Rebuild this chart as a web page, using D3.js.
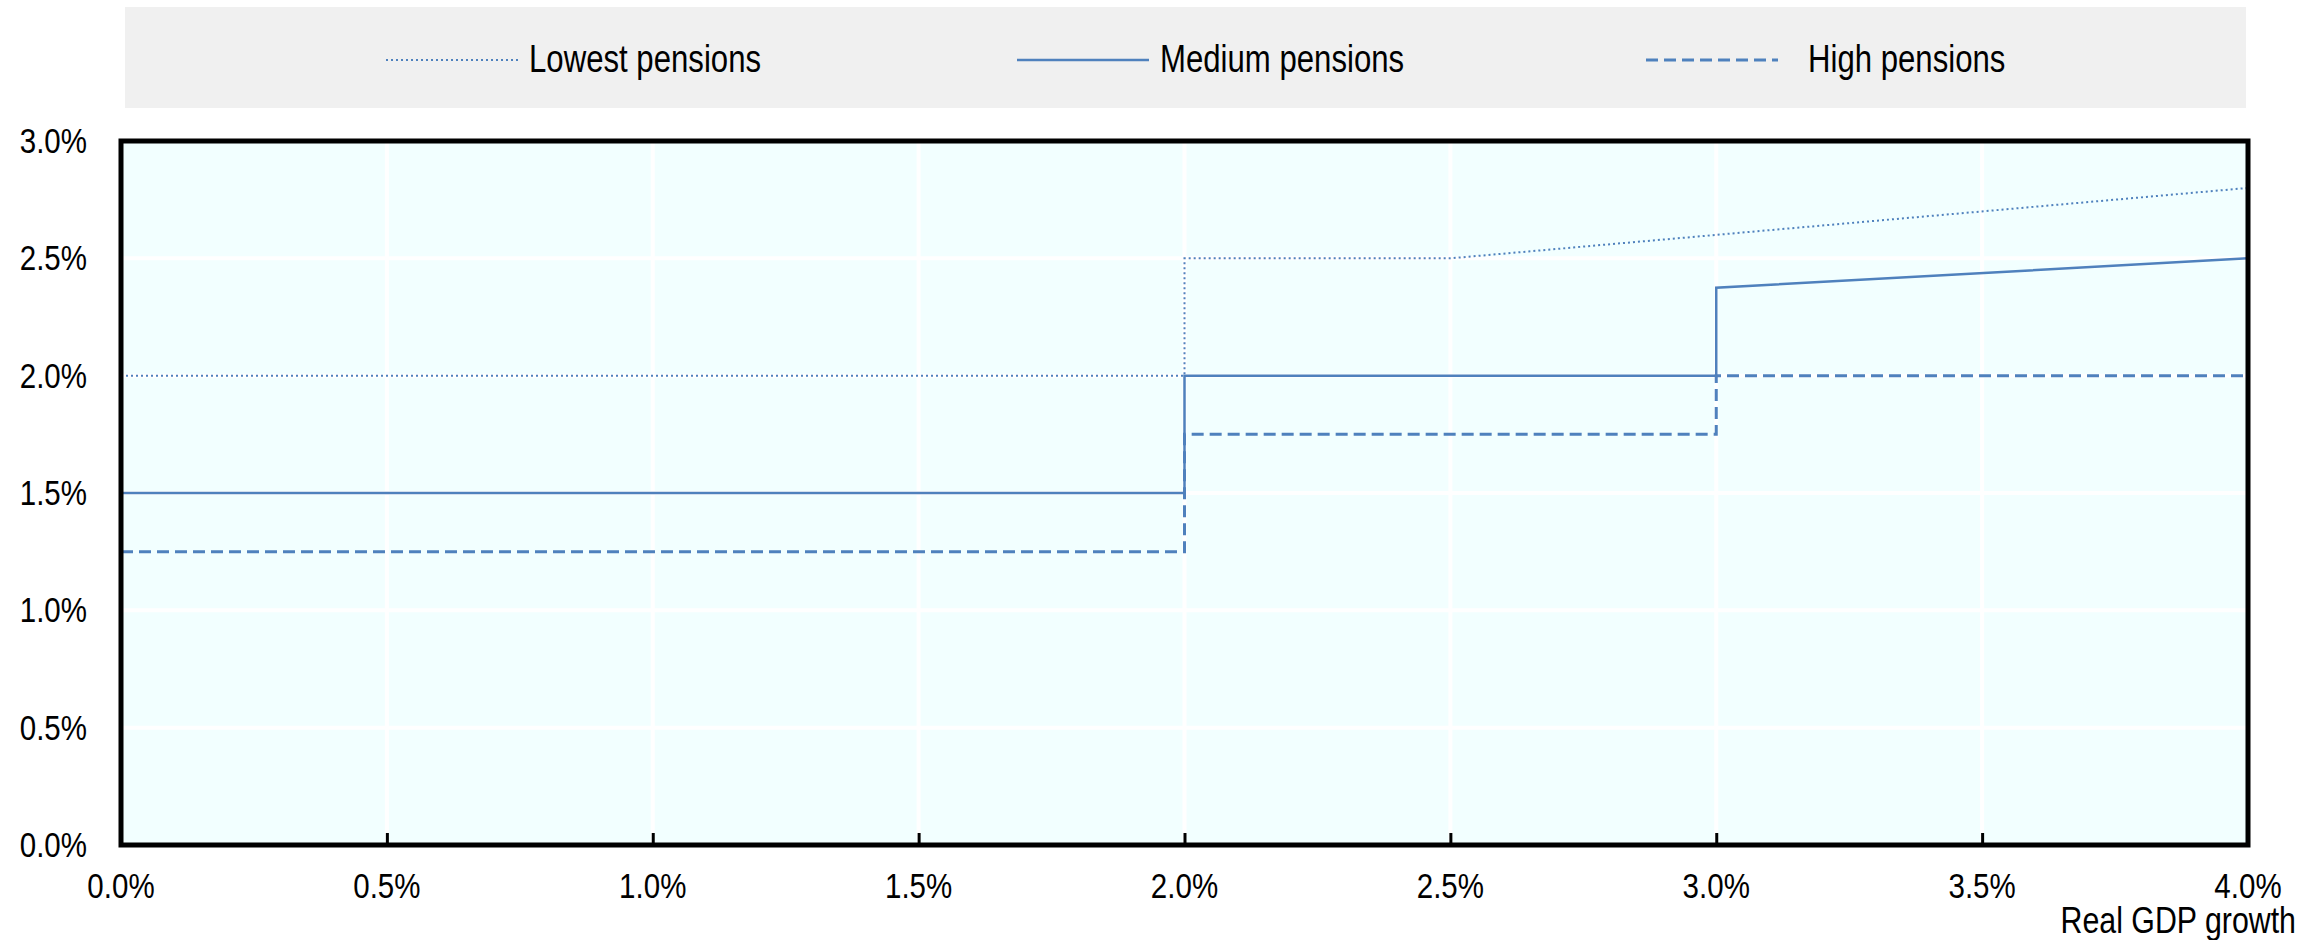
<!DOCTYPE html>
<html>
<head>
<meta charset="utf-8">
<script src="https://cdn.jsdelivr.net/npm/d3@7"></script>
<style>
    body { margin: 0; background: #ffffff; }
    text { font-family: "Liberation Sans Narrow", "Arial Narrow", "Liberation Sans", Arial, sans-serif; fill: #000; }
</style>
</head>
<body>
<div id="chart"></div>
<script>
// values, in % of real GDP growth / indexation
const lowestPensions = [[0, 2.0], [2.0, 2.0], [2.0, 2.5], [2.5, 2.5], [4.0, 2.8]];
const mediumPensions = [[0, 1.5], [2.0, 1.5], [2.0, 2.0], [3.0, 2.0], [3.0, 2.375], [4.0, 2.5]];
const highPensions = [[0, 1.25], [2.0, 1.25], [2.0, 1.75], [3.0, 1.75], [3.0, 2.0], [4.0, 2.0]];

const seriesNames = ["Lowest pensions", "Medium pensions", "High pensions"];
const xTicks = [0, 0.5, 1.0, 1.5, 2.0, 2.5, 3.0, 3.5, 4.0];
const yTicks = [0, 0.5, 1.0, 1.5, 2.0, 2.5, 3.0];
const xTitle = "Real GDP growth";

document.addEventListener("DOMContentLoaded", function () {

    let W = 2311, H = 940;
    let plot = { left: 121, right: 2248, top: 141, bottom: 845 };
    let lineColor = "#4f81bd";
    let squeeze = 0.82; // narrow font look

    let svg = d3.select("#chart").append("svg")
        .attr("width", W)
        .attr("height", H);

    let x = d3.scaleLinear().domain([0, 4]).range([plot.left, plot.right]);
    let y = d3.scaleLinear().domain([0, 3]).range([plot.bottom, plot.top]);

    let place = (px, py) => "translate(" + px + "," + py + ") scale(" + squeeze + ",1)";

    // plot background
    svg.append("rect")
        .attr("x", plot.left).attr("y", plot.top)
        .attr("width", plot.right - plot.left)
        .attr("height", plot.bottom - plot.top)
        .attr("fill", "#f2ffff");

    // white grid lines
    svg.append("g")
        .selectAll("line")
        .data(xTicks)
        .join("line")
            .attr("x1", d => x(d)).attr("x2", d => x(d))
            .attr("y1", plot.top).attr("y2", plot.bottom)
            .attr("stroke", "#ffffff")
            .attr("stroke-width", 4);

    svg.append("g")
        .selectAll("line")
        .data(yTicks)
        .join("line")
            .attr("x1", plot.left).attr("x2", plot.right)
            .attr("y1", d => y(d)).attr("y2", d => y(d))
            .attr("stroke", "#ffffff")
            .attr("stroke-width", 4);

    let series = [
        { name: seriesNames[0], values: lowestPensions, width: 2, dash: "2,3" },
        { name: seriesNames[1], values: mediumPensions, width: 2.5, dash: null },
        { name: seriesNames[2], values: highPensions, width: 3, dash: "12,6" }
    ];

    let line = d3.line().x(d => x(d[0])).y(d => y(d[1]));

    svg.append("g")
        .selectAll("path")
        .data(series)
        .join("path")
            .attr("d", d => line(d.values))
            .attr("fill", "none")
            .attr("stroke", lineColor)
            .attr("stroke-width", d => d.width)
            .attr("stroke-dasharray", d => d.dash);

    // x axis: small inward ticks + labels
    let xAxis = svg.append("g")
        .attr("transform", "translate(0," + plot.bottom + ")")
        .call(d3.axisTop(x).tickValues(xTicks).tickSize(12).tickFormat(""));
    xAxis.select(".domain").remove();
    xAxis.selectAll("line").attr("stroke", "#000").attr("stroke-width", 3);

    svg.append("g")
        .selectAll("text")
        .data(xTicks)
        .join("text")
            .attr("transform", d => place(x(d), 898))
            .attr("text-anchor", "middle")
            .style("font-size", "36px")
            .text(d => d3.format(".1f")(d) + "%");

    svg.append("text")
        .attr("transform", place(2296, 933))
        .attr("text-anchor", "end")
        .style("font-size", "37px")
        .text(xTitle);

    // y axis labels
    let yAxis = svg.append("g")
        .attr("transform", "translate(" + (plot.left - 34) + ",0)")
        .call(d3.axisLeft(y).tickValues(yTicks).tickSize(0).tickPadding(0)
            .tickFormat(d => d3.format(".1f")(d) + "%"));
    yAxis.select(".domain").remove();
    yAxis.selectAll("text")
        .style("font-size", "36px")
        .attr("font-family", null)
        .attr("fill", "#000")
        .attr("transform", "scale(" + squeeze + ",1)");

    // frame
    svg.append("rect")
        .attr("x", plot.left).attr("y", plot.top)
        .attr("width", plot.right - plot.left)
        .attr("height", plot.bottom - plot.top)
        .attr("fill", "none")
        .attr("stroke", "#000")
        .attr("stroke-width", 5);

    // legend
    let legend = svg.append("g");
    legend.append("rect")
        .attr("x", 125).attr("y", 7)
        .attr("width", 2246 - 125).attr("height", 101)
        .attr("fill", "#f0f0f0");

    let legendStarts = [386, 1017, 1646];
    let items = legend.selectAll("g.item")
        .data(series)
        .join("g")
            .attr("class", "item")
            .attr("transform", (d, i) => "translate(" + legendStarts[i] + ",60)");

    items.append("line")
        .attr("x1", 0).attr("x2", 132)
        .attr("y1", 0).attr("y2", 0)
        .attr("stroke", lineColor)
        .attr("stroke-width", d => d.width)
        .attr("stroke-dasharray", d => d.dash);

    items.append("text")
        .attr("transform", (d, i) => place(i === 2 ? 162 : 143, 12))
        .style("font-size", "38px")
        .text(d => d.name);
});
</script>
</body>
</html>
